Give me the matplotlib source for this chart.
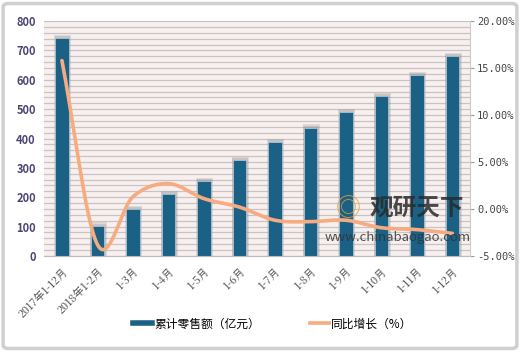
import numpy as np
import matplotlib
matplotlib.use('Agg')
import matplotlib.pyplot as plt
from matplotlib.patches import FancyBboxPatch, Rectangle
from matplotlib.lines import Line2D

plt.rcParams['font.family'] = ['Noto Sans CJK SC', 'DejaVu Sans']

# data
months = ['2017年1-12月', '2018年1-2月', '1-3月', '1-4月', '1-5月', '1-6月',
          '1-7月', '1-8月', '1-9月', '1-10月', '1-11月', '1-12月']
sales = [742, 103, 160, 210, 256, 327, 387, 437, 490, 545, 617, 682]
growth = [15.8, -3.8, 1.3, 2.7, 1.1, 0.2, -1.2, -1.35, -1.2, -2.0, -2.2, -2.6]

left_ticks = list(range(0, 801, 100))
right_ticks = [-5, 0, 5, 10, 15, 20]

bar_color = '#1b6186'
line_color = '#f7ab80'
bg_color = '#f8f0ef'
grid_color = '#c9c4c4'
tick_color = '#4a4573'


def smooth(x, y, n=20):
    # catmull-rom style smoothing like the excel "smoothed line"
    x = np.asarray(x, float)
    y = np.asarray(y, float)
    px = np.concatenate([[2 * x[0] - x[1]], x, [2 * x[-1] - x[-2]]])
    py = np.concatenate([[2 * y[0] - y[1]], y, [2 * y[-1] - y[-2]]])
    xs, ys = [], []
    t = np.linspace(0, 1, n)
    for i in range(1, len(px) - 2):
        p0, p1, p2, p3 = py[i - 1], py[i], py[i + 1], py[i + 2]
        q0, q1, q2, q3 = px[i - 1], px[i], px[i + 1], px[i + 2]
        ys.append(0.5 * (2 * p1 + (-p0 + p2) * t + (2 * p0 - 5 * p1 + 4 * p2 - p3) * t ** 2
                         + (-p0 + 3 * p1 - 3 * p2 + p3) * t ** 3))
        xs.append(0.5 * (2 * q1 + (-q0 + q2) * t + (2 * q0 - 5 * q1 + 4 * q2 - q3) * t ** 2
                         + (-q0 + 3 * q1 - 3 * q2 + q3) * t ** 3))
    return np.concatenate(xs), np.concatenate(ys)


fig = plt.figure(figsize=(5.2, 3.52), dpi=100)
fig.patch.set_facecolor('white')
# outer frame
fig.patches.append(FancyBboxPatch((0.006, 0.01), 0.988, 0.98, boxstyle='round,pad=0,rounding_size=0.01',
                                  transform=fig.transFigure, fill=False, edgecolor='#d0d0d0', linewidth=2.5))

ax = fig.add_axes([0.085, 0.273, 0.819, 0.667])
ax.set_facecolor(bg_color)
x = np.arange(len(months))

# stripes
for v in range(0, 801, 20):
    ax.axhline(v, color=grid_color, linewidth=0.9, zorder=0)

# soft shadow behind bars
for xi, v in zip(x, sales):
    ax.add_patch(Rectangle((xi - 0.21, 0), 0.47, v + 11, facecolor='#8a8585', alpha=0.22,
                           edgecolor='none', zorder=1))
    ax.add_patch(Rectangle((xi - 0.2, 0), 0.44, v + 7, facecolor='#8a8585', alpha=0.25,
                           edgecolor='none', zorder=1))
ax.bar(x, sales, width=0.38, color=bar_color, edgecolor='#a9c2d0', linewidth=0.6, zorder=2)

ax.set_xlim(-0.5, len(months) - 0.5)
ax.set_ylim(0, 800)
ax.set_yticks(left_ticks)
ax.set_yticklabels([str(t) for t in left_ticks], fontsize=8, color=tick_color, fontweight='bold')
ax.set_xticks(x)
ax.set_xticklabels(months, rotation=45, ha='right', rotation_mode='anchor', fontsize=7.8,
                   color='#444444', family=['Noto Serif CJK SC', 'Noto Sans CJK SC', 'DejaVu Serif'])
ax.tick_params(axis='y', length=0, pad=6)
ax.tick_params(axis='x', length=0, pad=7)
for s in ['top', 'right', 'left']:
    ax.spines[s].set_visible(False)
ax.spines['bottom'].set_color('#bbbbbb')

ax2 = ax.twinx()
xs, ys = smooth(x, growth)
ax2.plot(xs, ys, color=line_color, linewidth=2.6, solid_capstyle='round', zorder=3)
ax2.set_ylim(-5, 20)
ax2.set_yticks(right_ticks)
ax2.set_yticklabels(['%.2f%%' % t for t in right_ticks], fontsize=7.5, color='#444444',
                    family=['DejaVu Sans Mono'])
ax2.tick_params(axis='y', length=3, color='#999999', pad=2)
for s in ['top', 'left', 'bottom']:
    ax2.spines[s].set_visible(False)
ax2.spines['right'].set_color('#cccccc')

# watermark
fig.text(0.71, 0.39, '观研天下', fontsize=17, fontweight='bold', color='#2a2a2a', alpha=0.85)
fig.text(0.625, 0.315, 'www.chinabaogao.com', fontsize=9.5, color='#333333', alpha=0.85)
fig.text(0.645, 0.385, '◎', fontsize=18, color='#e8a030', alpha=0.85)

handles = [Line2D([0], [0], color=bar_color, linewidth=4),
           Line2D([0], [0], color=line_color, linewidth=2.6)]
fig.legend(handles, ['累计零售额（亿元）', '同比增长（%）'], loc='center', ncol=2,
           bbox_to_anchor=(0.525, 0.08), frameon=False, fontsize=8.5, handlelength=1.6,
           handletextpad=0.2, columnspacing=4.2)

fig.savefig('out.png', dpi=100)
